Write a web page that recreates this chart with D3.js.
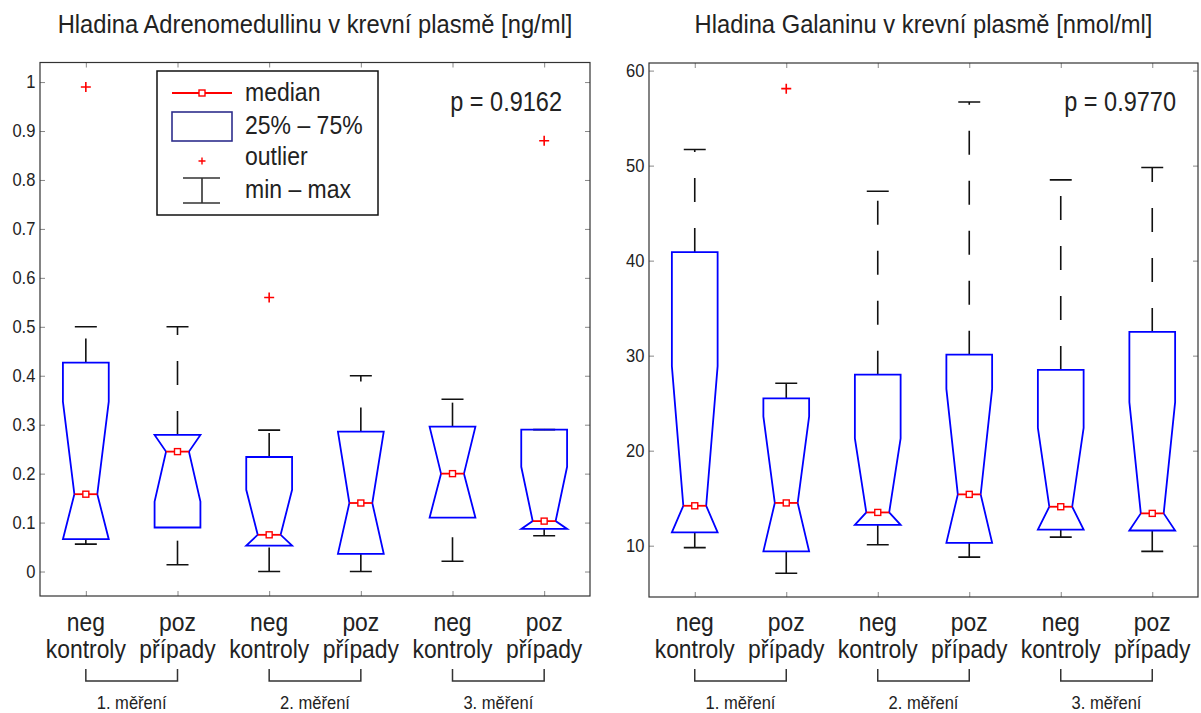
<!DOCTYPE html>
<html>
<head>
<meta charset="utf-8">
<script src="https://cdn.jsdelivr.net/npm/d3@7"></script>
<style>
  body { margin: 0; background: #fff; }
  text { font-family: "Liberation Sans", Arial, sans-serif; fill: #222; }
</style>
</head>
<body>
<div id="chart-area"></div>
<script>
// categories
let catTop = ['neg', 'poz', 'neg', 'poz', 'neg', 'poz'];
let catBottom = ['kontroly', 'případy', 'kontroly', 'případy', 'kontroly', 'případy'];
let groups = ['1. měření', '2. měření', '3. měření'];

// Adrenomedullin [ng/ml]
let admMin     = [0.056, 0.014, 0.000, 0.000, 0.021, 0.073];
let admQ1      = [0.066, 0.090, 0.053, 0.036, 0.110, 0.087];
let admNotchLo = [0.066, 0.143, 0.053, 0.036, 0.110, 0.087];
let admMed     = [0.158, 0.245, 0.075, 0.140, 0.200, 0.103];
let admNotchHi = [0.347, 0.279, 0.167, 0.286, 0.296, 0.214];
let admQ3      = [0.427, 0.279, 0.234, 0.286, 0.296, 0.290];
let admMax     = [0.500, 0.500, 0.289, 0.400, 0.352, 0.290];
let admOut     = [[0.99], [], [0.56], [], [], [0.88]];
let admTicks   = [0, 0.1, 0.2, 0.3, 0.4, 0.5, 0.6, 0.7, 0.8, 0.9, 1];

// Galanin [nmol/ml]
let galMin     = [9.8, 7.1, 10.1, 8.8, 10.9, 9.4];
let galQ1      = [11.4, 9.4, 12.2, 10.3, 11.7, 11.6];
let galNotchLo = [11.4, 9.4, 12.2, 10.3, 11.7, 11.6];
let galMed     = [14.2, 14.5, 13.5, 15.4, 14.1, 13.4];
let galNotchHi = [28.9, 23.6, 21.3, 26.5, 22.4, 25.1];
let galQ3      = [40.9, 25.5, 28.0, 30.1, 28.5, 32.5];
let galMax     = [51.7, 27.1, 47.3, 56.7, 48.5, 49.8];
let galOut     = [[], [58.1], [], [], [], []];
let galTicks   = [10, 20, 30, 40, 50, 60];

let sx = 0.88; // text looks condensed in the original

let svg = d3.select('#chart-area').append('svg')
  .attr('width', 1201)
  .attr('height', 713);

function label(sel, x, y, str, size, anchor, scale) {
  return sel.append('text')
    .attr('transform', `translate(${x},${y}) scale(${scale || sx},1)`)
    .attr('text-anchor', anchor || 'middle')
    .style('font-size', size + 'px')
    .text(str);
}

function makeBoxes(mn, q1, nlo, med, nhi, q3, mx, out) {
  return mn.map((d, i) => ({
    i: i, min: mn[i], q1: q1[i], nlo: nlo[i], med: med[i],
    nhi: nhi[i], q3: q3[i], max: mx[i], out: out[i]
  }));
}

function drawPanel(opt) {
  let g = svg.append('g');
  let x = d3.scalePoint()
    .domain(d3.range(6))
    .range([opt.x0, opt.x1])
    .padding(0.5);
  let y = d3.scaleLinear()
    .domain(opt.domain)
    .range([opt.y1, opt.y0]);
  let step = x.step();
  let hw = step * 0.25;     // half box width
  let cw = step * 0.12;     // half cap width
  let nw = hw / 2;          // notch inset

  // axes (ticks inward)
  let left = g.append('g')
    .attr('transform', `translate(${opt.x0},0)`)
    .call(d3.axisLeft(y).tickValues(opt.ticks).tickFormat(d => String(d))
      .tickSize(-5).tickSizeOuter(0).tickPadding(5));
  left.selectAll('text')
    .attr('transform', 'scale(0.92,1)')
    .style('font-size', '18px');
  g.append('g')
    .attr('transform', `translate(${opt.x1},0)`)
    .call(d3.axisRight(y).tickValues(opt.ticks).tickSize(-5).tickSizeOuter(0).tickFormat(''));
  g.append('g')
    .attr('transform', `translate(0,${opt.y0})`)
    .call(d3.axisTop(x).tickSize(-5).tickSizeOuter(0).tickFormat(''));
  g.append('g')
    .attr('transform', `translate(0,${opt.y1})`)
    .call(d3.axisBottom(x).tickSize(-5).tickSizeOuter(0).tickFormat(''));
  g.selectAll('.domain').remove();
  g.selectAll('.tick line').attr('stroke', '#888');

  g.append('rect')
    .attr('x', opt.x0)
    .attr('y', opt.y0)
    .attr('width', opt.x1 - opt.x0)
    .attr('height', opt.y1 - opt.y0)
    .attr('fill', 'none')
    .attr('stroke', '#333')
    .attr('stroke-width', 1.2);

  let boxes = g.selectAll('.box')
    .data(opt.data)
    .enter()
    .append('g')
    .attr('class', 'box');

  // whiskers, drawn from the lower value upward
  boxes.append('path')
    .attr('d', d => `M${x(d.i)},${y(d.q3)}L${x(d.i)},${y(d.max)}`)
    .attr('stroke', '#111')
    .attr('stroke-width', 1.6)
    .attr('stroke-dasharray', '24,26');
  boxes.append('path')
    .attr('d', d => `M${x(d.i)},${y(d.min)}L${x(d.i)},${y(d.q1)}`)
    .attr('stroke', '#111')
    .attr('stroke-width', 1.6)
    .attr('stroke-dasharray', '24,26');
  // caps
  boxes.append('path')
    .attr('d', d => `M${x(d.i) - cw},${y(d.max)}H${x(d.i) + cw}M${x(d.i) - cw},${y(d.min)}H${x(d.i) + cw}`)
    .attr('stroke', '#111')
    .attr('stroke-width', 1.6);

  // notched box
  boxes.append('path')
    .attr('d', d => {
      let c = x(d.i);
      return `M${c - hw},${y(d.q1)}L${c - hw},${y(d.nlo)}L${c - nw},${y(d.med)}L${c - hw},${y(d.nhi)}` +
        `L${c - hw},${y(d.q3)}L${c + hw},${y(d.q3)}L${c + hw},${y(d.nhi)}L${c + nw},${y(d.med)}` +
        `L${c + hw},${y(d.nlo)}L${c + hw},${y(d.q1)}Z`;
    })
    .attr('fill', 'none')
    .attr('stroke', '#0000ff')
    .attr('stroke-width', 1.8);

  // median
  boxes.append('line')
    .attr('x1', d => x(d.i) - nw)
    .attr('x2', d => x(d.i) + nw)
    .attr('y1', d => y(d.med))
    .attr('y2', d => y(d.med))
    .attr('stroke', '#ff0000')
    .attr('stroke-width', 1.8);
  boxes.append('rect')
    .attr('x', d => x(d.i) - 3)
    .attr('y', d => y(d.med) - 3)
    .attr('width', 6)
    .attr('height', 6)
    .attr('fill', '#fff')
    .attr('stroke', '#ff0000')
    .attr('stroke-width', 1.4);

  // outliers
  boxes.selectAll('.out')
    .data(d => d.out.map(v => ({ i: d.i, v: v })))
    .enter()
    .append('path')
    .attr('class', 'out')
    .attr('d', d => `M${x(d.i) - 5},${y(d.v)}H${x(d.i) + 5}M${x(d.i)},${y(d.v) - 5}V${y(d.v) + 5}`)
    .attr('stroke', '#ff0000')
    .attr('stroke-width', 1.6);

  // title and p value
  label(g, (opt.x0 + opt.x1) / 2, 33, opt.title, 25, 'middle', 0.95);
  label(g, opt.x1 - opt.pOff, 111, opt.p, 28, 'end', 0.84);

  // category labels
  catTop.forEach((t, i) => label(g, x(i), 631, t, 26, 'middle'));
  catBottom.forEach((t, i) => label(g, x(i), 658, t, 26, 'middle'));

  // measurement brackets
  groups.forEach((t, k) => {
    let a = x(2 * k), b = x(2 * k + 1);
    g.append('path')
      .attr('d', `M${a},669V681H${b}V669`)
      .attr('fill', 'none')
      .attr('stroke', '#333')
      .attr('stroke-width', 1.5);
    label(g, (a + b) / 2, 709, t, 18, 'middle', 0.92);
  });

  return g;
}

let gLeft = drawPanel({
  x0: 40, x1: 590, y0: 62.5, y1: 596,
  domain: [-0.05, 1.04],
  ticks: admTicks,
  data: makeBoxes(admMin, admQ1, admNotchLo, admMed, admNotchHi, admQ3, admMax, admOut),
  title: 'Hladina Adrenomedullinu v krevní plasmě [ng/ml]',
  p: 'p = 0.9162',
  pOff: 28
});

drawPanel({
  x0: 649, x1: 1198, y0: 63, y1: 597,
  domain: [4.6, 60.8],
  ticks: galTicks,
  data: makeBoxes(galMin, galQ1, galNotchLo, galMed, galNotchHi, galQ3, galMax, galOut),
  title: 'Hladina Galaninu v krevní plasmě [nmol/ml]',
  p: 'p = 0.9770',
  pOff: 22
});

// legend (left panel)
let leg = gLeft.append('g');
leg.append('rect')
  .attr('x', 157).attr('y', 71)
  .attr('width', 221).attr('height', 144)
  .attr('fill', '#fff')
  .attr('stroke', '#111')
  .attr('stroke-width', 1.5);
leg.append('line')
  .attr('x1', 172).attr('x2', 232).attr('y1', 93).attr('y2', 93)
  .attr('stroke', '#ff0000').attr('stroke-width', 1.8);
leg.append('rect')
  .attr('x', 199).attr('y', 90).attr('width', 6).attr('height', 6)
  .attr('fill', '#fff').attr('stroke', '#ff0000').attr('stroke-width', 1.4);
leg.append('rect')
  .attr('x', 172).attr('y', 112).attr('width', 60).attr('height', 29)
  .attr('fill', 'none').attr('stroke', '#2e2e8c').attr('stroke-width', 1.6);
leg.append('path')
  .attr('d', 'M198.5,161H205.5M202,157.5V164.5')
  .attr('stroke', '#ff0000').attr('stroke-width', 1.4);
leg.append('path')
  .attr('d', 'M183,178H220M183,203H220M202,178V203')
  .attr('stroke', '#333').attr('stroke-width', 1.6);
let legText = ['median', '25% – 75%', 'outlier', 'min – max'];
let legBase = [101, 134, 165, 198];
legText.forEach((t, i) => label(leg, 245, legBase[i], t, 25, 'start', 0.92));
</script>
</body>
</html>
